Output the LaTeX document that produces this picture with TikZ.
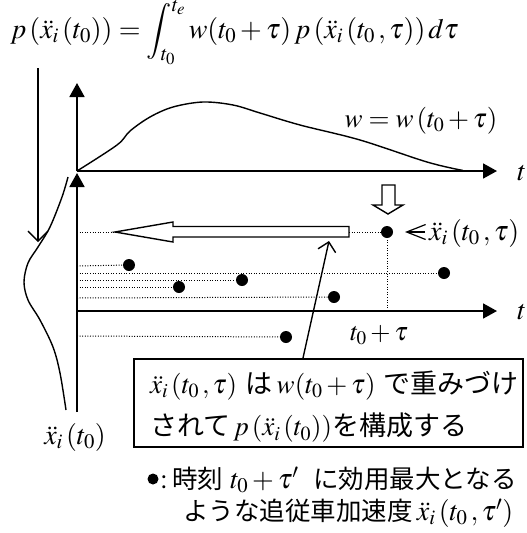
\documentclass[tikz,border=0pt]{standalone}
\usepackage{mathptmx}
\usepackage[no-math]{fontspec}
\newfontfamily\jp{Noto Sans CJK JP}
\usetikzlibrary{arrows.meta}
\newcommand\xdd{\ddot{x}_i\,}
\newcommand\mth[1]{{\fontsize{28}{32}\selectfont$#1$}}
\begin{document}
\begin{tikzpicture}[x=1pt,y=-1pt,
  axis/.style={line width=1.8pt,-{Triangle[length=14pt,width=15pt]}},
  curve/.style={line width=1.4pt},
  dotline/.style={line width=1pt,dash pattern=on 1pt off 1.6pt},
  pt/.style={circle,fill=black,inner sep=0pt,minimum size=12pt},
  lbl/.style={inner sep=0pt,font=\fontsize{28}{32}\selectfont},
  blbl/.style={inner sep=0pt,font=\fontsize{27}{31}\selectfont},
  nlbl/.style={inner sep=0pt,font=\fontsize{25.5}{29}\selectfont},
  hollow/.style={draw,line width=1.4pt,fill=white,line join=miter},
  barb/.style={line width=1.4pt,-{Straight Barb[length=10pt,width=20pt]}}
]
\useasboundingbox (0,0) rectangle (527,533);
% equation
\node[lbl,anchor=base west] (eq) at (10,38)
  {$p\left(\xdd(t_0)\right)=\displaystyle\int\nolimits_{t_0}^{t_e} w(t_0+\tau)\,p\left(\xdd(t_0\,,\tau)\right)d\tau$};
% axes
\coordinate (O1) at (77,171);
\coordinate (Y1) at (77,83);
\coordinate (X1) at (497,171);
\coordinate (B2) at (77,412);
\coordinate (Y2) at (77,173);
\coordinate (O2) at (77,311);
\coordinate (X2) at (497,311);
\draw[axis] (O1) -- (Y1);
\draw[axis] (O1) -- (X1);
\draw[axis] (B2) -- (Y2);
\draw[axis] (O2) -- (X2);
\node[lbl,anchor=west] (t1) at (517,173) {$t$};
\node[lbl,anchor=west] (t2) at (517,312) {$t$};
% weight curve
\draw[curve] plot[smooth,tension=0.55] coordinates {(77,171) (117,145) (130,131) (150,117) (173,107) (203,102) (233,105) (260,113) (300,125) (360,140) (427,162) (463,170.5)};
\node[inner sep=0pt,font=\fontsize{27}{31}\selectfont] (wlab) at (421,121) {$w=w\left(t_0+\tau\right)$};
% distribution curve
\draw[curve] plot[smooth,tension=0.55] coordinates {(68,177) (62,197) (50,227) (38,247) (28,263) (24,282) (28,300) (40,320) (53,347) (60,373) (66,410)};
% long down arrow
\coordinate (a0) at (38,68);
\coordinate (a1) at (38,242);
\draw[barb] (a0) -- (a1);
% hollow left arrow
\draw[hollow] (115,232) -- (173,222) -- (173,226.5) -- (349,226.5) -- (349,237) -- (173,237) -- (173,242) -- cycle;
\draw[dotline] (77,232) -- (115,232);
% hollow down arrow
\draw[hollow] (382,185) -- (395,185) -- (395,205) -- (403,205) -- (388,214) -- (373,205) -- (382,205) -- cycle;
% main point
\node[pt] (d0) at (387,232) {};
\draw[dotline] (349,232) -- (d0.center);
\draw[dotline] (d0.center) -- (387,311);
\node[lbl,anchor=west] (xlab) at (429,233) {$\xdd(t_0\,,\tau)$};
\draw[line width=1.2pt,-{Straight Barb[length=19pt,width=15pt]}] (425,232) -- (405,232);
% other points
\node[pt] (d1) at (129,265) {};
\node[pt] (d2) at (444,273) {};
\node[pt] (d3) at (242,280) {};
\node[pt] (d4) at (179,287) {};
\node[pt] (d5) at (334,297) {};
\node[pt] (d6) at (286,337) {};
\draw[dotline] (77,266) -- (d1.center);
\draw[dotline] (77,273) -- (d2.center);
\draw[dotline] (77,280) -- (d3.center);
\draw[dotline] (77,287) -- (d4.center);
\draw[dotline] (77,298) -- (d5.center);
\draw[dotline] (77,336) -- (d6.center);
\node[inner sep=0pt,font=\fontsize{26}{30}\selectfont] (tt) at (379,335) {$t_0+\tau$};
% box
\node[draw,line width=1.6pt,minimum width=389pt,minimum height=88pt,anchor=north west,inner sep=0pt] (box) at (133,358) {};
\node[blbl,anchor=west] (bl1) at (150,386) {$\xdd(t_0\,,\tau)$ {\jp は}\,$w(t_0+\tau)$ {\jp で重みづけ}};
\node[blbl,anchor=west] (bl2) at (150,428) {{\jp されて}$\,p\left(\xdd(t_0)\right)${\jp を構成する}};
\coordinate (c0) at (303,358);
\coordinate (c1) at (329,241);
\draw[barb,-{Straight Barb[length=9pt,width=18pt]}] (c0) -- (c1);
% labels
\node[lbl] (xl) at (75,437) {$\xdd(t_0)$};
\node[pt,minimum size=11pt] (bul) at (153,479) {};
\node[nlbl,anchor=west] (n1) at (160,480) {\mth{:}\,{\jp 時刻}\;\mth{t_0+\tau'}\; {\jp に効用最大となる}};
\node[nlbl,anchor=west] (n2) at (183,513) {{\jp ような追従車加速度}\,\mth{\xdd(t_0\,,\tau')}};
\end{tikzpicture}
\end{document}
